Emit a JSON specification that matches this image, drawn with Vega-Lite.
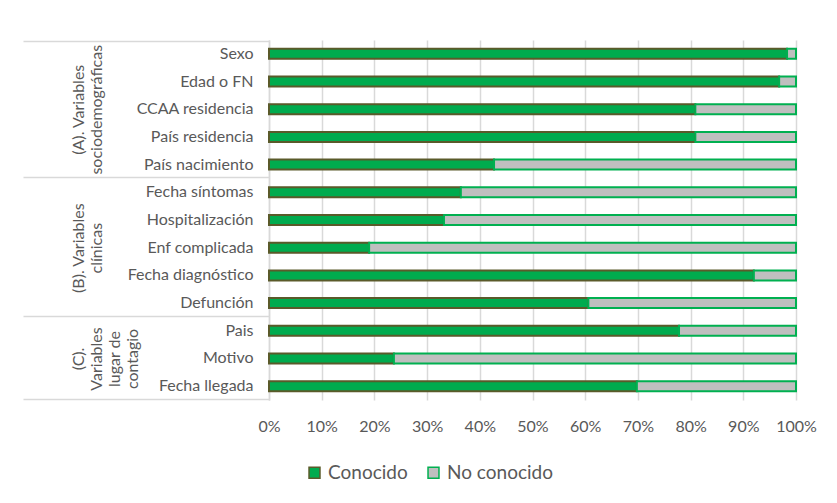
{
  "$schema": "https://vega.github.io/schema/vega-lite/v6.json",
  "width": 527,
  "height": 360,
  "padding": {"left": 22, "top": 40, "right": 20, "bottom": 10},
  "config": {"font": "Lato", "view": {"stroke": null}},
  "data": {
    "values": [
      {"Grupo": "A", "Variable": "Sexo", "Estado": "Conocido", "Porcentaje": 98.3},
      {"Grupo": "A", "Variable": "Sexo", "Estado": "No conocido", "Porcentaje": 1.7},
      {"Grupo": "A", "Variable": "Edad o FN", "Estado": "Conocido", "Porcentaje": 96.8},
      {"Grupo": "A", "Variable": "Edad o FN", "Estado": "No conocido", "Porcentaje": 3.2},
      {"Grupo": "A", "Variable": "CCAA residencia", "Estado": "Conocido", "Porcentaje": 80.9},
      {"Grupo": "A", "Variable": "CCAA residencia", "Estado": "No conocido", "Porcentaje": 19.1},
      {"Grupo": "A", "Variable": "País residencia", "Estado": "Conocido", "Porcentaje": 80.9},
      {"Grupo": "A", "Variable": "País residencia", "Estado": "No conocido", "Porcentaje": 19.1},
      {"Grupo": "A", "Variable": "País nacimiento", "Estado": "Conocido", "Porcentaje": 42.7},
      {"Grupo": "A", "Variable": "País nacimiento", "Estado": "No conocido", "Porcentaje": 57.3},
      {"Grupo": "B", "Variable": "Fecha síntomas", "Estado": "Conocido", "Porcentaje": 36.4},
      {"Grupo": "B", "Variable": "Fecha síntomas", "Estado": "No conocido", "Porcentaje": 63.6},
      {"Grupo": "B", "Variable": "Hospitalización", "Estado": "Conocido", "Porcentaje": 33.2},
      {"Grupo": "B", "Variable": "Hospitalización", "Estado": "No conocido", "Porcentaje": 66.8},
      {"Grupo": "B", "Variable": "Enf complicada", "Estado": "Conocido", "Porcentaje": 19.0},
      {"Grupo": "B", "Variable": "Enf complicada", "Estado": "No conocido", "Porcentaje": 81.0},
      {"Grupo": "B", "Variable": "Fecha diagnóstico", "Estado": "Conocido", "Porcentaje": 92.0},
      {"Grupo": "B", "Variable": "Fecha diagnóstico", "Estado": "No conocido", "Porcentaje": 8.0},
      {"Grupo": "B", "Variable": "Defunción", "Estado": "Conocido", "Porcentaje": 60.6},
      {"Grupo": "B", "Variable": "Defunción", "Estado": "No conocido", "Porcentaje": 39.4},
      {"Grupo": "C", "Variable": "Pais", "Estado": "Conocido", "Porcentaje": 77.8},
      {"Grupo": "C", "Variable": "Pais", "Estado": "No conocido", "Porcentaje": 22.2},
      {"Grupo": "C", "Variable": "Motivo", "Estado": "Conocido", "Porcentaje": 23.7},
      {"Grupo": "C", "Variable": "Motivo", "Estado": "No conocido", "Porcentaje": 76.3},
      {"Grupo": "C", "Variable": "Fecha llegada", "Estado": "Conocido", "Porcentaje": 69.8},
      {"Grupo": "C", "Variable": "Fecha llegada", "Estado": "No conocido", "Porcentaje": 30.2}
    ]
  },
  "layer": [
    {
      "mark": {"type": "bar", "size": 10, "strokeWidth": 2},
      "encoding": {
        "y": {
          "field": "Variable",
          "type": "nominal",
          "sort": ["Sexo", "Edad o FN", "CCAA residencia", "País residencia", "País nacimiento", "Fecha síntomas", "Hospitalización", "Enf complicada", "Fecha diagnóstico", "Defunción", "Pais", "Motivo", "Fecha llegada"],
          "axis": {
            "orient": "left",
            "title": null,
            "domainColor": "#d9d9d9",
            "domainWidth": 1.5,
            "ticks": false,
            "labelPadding": 16,
            "labelFontSize": 16,
            "labelColor": "#595959",
            "labelLimit": 300
          }
        },
        "x": {
          "field": "Porcentaje",
          "type": "quantitative",
          "stack": "normalize",
          "scale": {"domain": [0, 1]},
          "axis": {
            "title": null,
            "format": "%",
            "values": [0, 0.1, 0.2, 0.3, 0.4, 0.5, 0.6, 0.7, 0.8, 0.9, 1],
            "domain": false,
            "ticks": false,
            "gridColor": "#d9d9d9",
            "gridWidth": 1.5,
            "labelPadding": 18,
            "labelFontSize": 16,
            "labelColor": "#595959",
            "labelOverlap": false,
            "labelFlush": false
          }
        },
        "fill": {
          "field": "Estado",
          "type": "nominal",
          "scale": {"domain": ["Conocido", "No conocido"], "range": ["#00AB4E", "#BFBFBF"]},
          "legend": {"title": null, "orient": "none", "legendX": 36, "legendY": 423, "direction": "horizontal", "symbolType": "square", "symbolSize": 120, "symbolStrokeWidth": 1.5, "labelFontSize": 19, "labelColor": "#595959", "columnPadding": 16}
        },
        "stroke": {
          "field": "Estado",
          "type": "nominal",
          "scale": {"domain": ["Conocido", "No conocido"], "range": ["#5a5a2a", "#00B050"]},
          "legend": {"title": null, "orient": "none", "legendX": 36, "legendY": 423, "direction": "horizontal", "symbolType": "square", "symbolSize": 120, "symbolStrokeWidth": 1.5, "labelFontSize": 19, "labelColor": "#595959", "columnPadding": 16}
        },
        "order": {"field": "Estado", "sort": "ascending"}
      }
    },
    {
      "mark": {"type": "point", "opacity": 0},
      "encoding": {
        "y": {
          "field": "Variable",
          "type": "nominal",
          "sort": ["Sexo", "Edad o FN", "CCAA residencia", "País residencia", "País nacimiento", "Fecha síntomas", "Hospitalización", "Enf complicada", "Fecha diagnóstico", "Defunción", "Pais", "Motivo", "Fecha llegada"],
          "axis": {
            "orient": "left",
            "title": null,
            "domain": false,
            "tickBand": "extent",
            "tickSize": 246,
            "tickColor": "#d9d9d9",
            "tickWidth": 1.5,
            "tickOpacity": {"condition": {"test": "datum.index < 0 || indexof(['País nacimiento','Defunción','Fecha llegada'], datum.value) >= 0", "value": 1}, "value": 0},
            "labelExpr": "datum.value == 'CCAA residencia' ? ['(A). Variables','sociodemográficas'] : datum.value == 'Enf complicada' ? ['(B). Variables','clínicas'] : datum.value == 'Motivo' ? ['(C).','Variables','lugar de','contagio'] : ''",
            "labelAngle": 270,
            "labelAlign": "center",
            "labelBaseline": "bottom",
            "labelPadding": -63,
            "labelFontSize": 16,
            "labelLineHeight": 18,
            "labelColor": "#595959",
            "labelOverlap": false
          }
        }
      }
    }
  ],
  "resolve": {"axis": {"y": "independent"}}
}
